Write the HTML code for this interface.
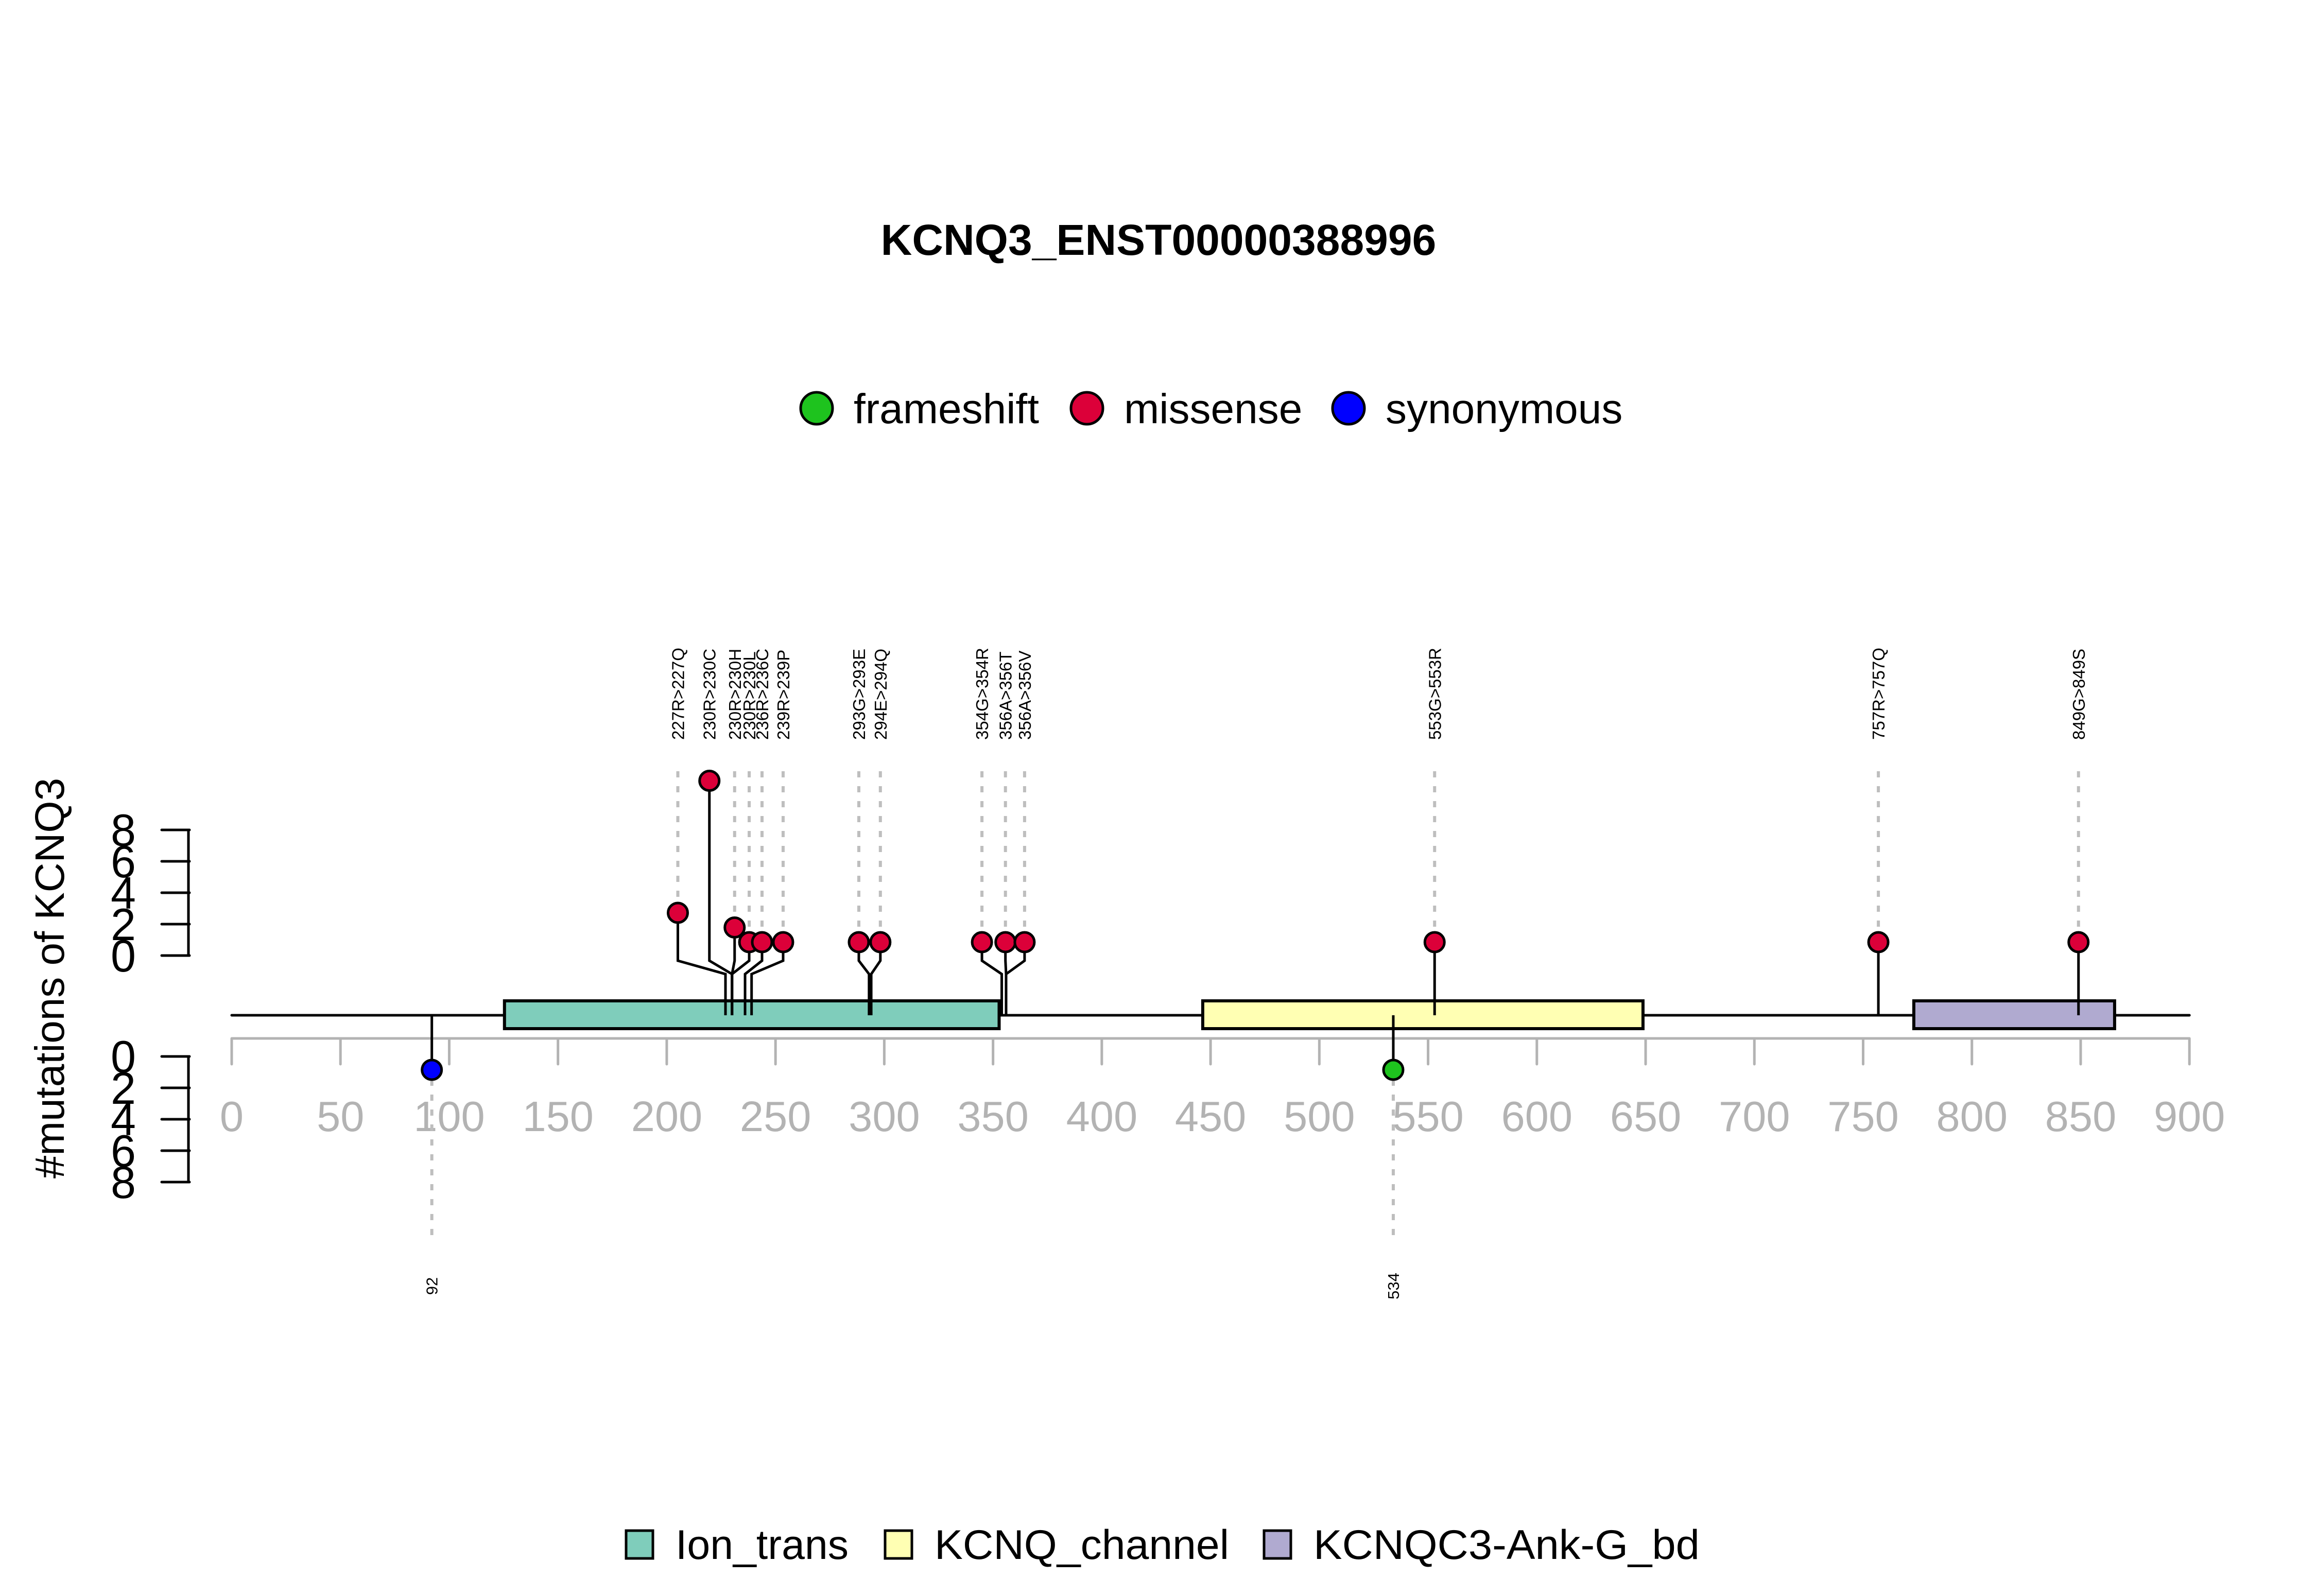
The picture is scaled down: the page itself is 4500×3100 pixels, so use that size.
<!DOCTYPE html>
<html><head><meta charset="utf-8"><title>KCNQ3 lolliplot</title>
<style>html,body{margin:0;padding:0;background:#fff}svg{display:block}</style></head>
<body>
<svg id="chart" xmlns="http://www.w3.org/2000/svg" width="4500" height="3100" viewBox="0 0 4500 3100" font-family="Liberation Sans, Arial, sans-serif">
<rect width="4500" height="3100" fill="#fff"/>
<text x="2250" y="495" text-anchor="middle" font-size="84" font-weight="bold">KCNQ3_ENST00000388996</text>
<text transform="translate(124,1900) rotate(-90)" text-anchor="middle" font-size="80">#mutations of KCNQ3</text>
<g id="g"></g>
</svg>
<script>
// ---- data ----
const axisTicks = [0,50,100,150,200,250,300,350,400,450,500,550,600,650,700,750,800,850,900];
const yTicks = [0,2,4,6,8];
const domainNames = ["Ion_trans","KCNQ_channel","KCNQC3-Ank-G_bd"];
const domainStarts = [125.4, 446.4, 773.3];
const domainEnds = [352.8, 648.8, 865.6];
const domainColors = ["#7fcdbb","#ffffb3","#b0aad0"];
const upLabels = ["227R>227Q","230R>230C","230R>230H","230R>230L","236R>236C","239R>239P","293G>293E","294E>294Q","354G>354R","356A>356T","356A>356V","553G>553R","757R>757Q","849G>849S"];
const upPos = [227,230,230,230,236,239,293,294,354,356,356,553,757,849];
const upShown = [205.1,219.6,231.2,237.9,243.8,253.5,288.3,298.2,344.9,355.7,364.5,553,757,849];
const upCounts = [3,12,2,1,1,1,1,1,1,1,1,1,1,1];
const downLabels = ["92","534"];
const downPos = [92,534];
const downCounts = [1,1];
const downTypes = ["synonymous","frameshift"];
const legendTypes = ["frameshift","missense","synonymous"];
const typeColors = {frameshift:"#1ec31e", missense:"#dc0039", synonymous:"#0000ff"};

// ---- scales ----
const X0=450, PX=4.2247;
const xs = v => X0 + v*PX;
const BACK=1972, TOP0=1856, BOT0=2052, TSTEP=30.5, CSTEP=28.5;
const yUp = c => TOP0 - 26 - CSTEP*(c-1);
const yDown = c => BOT0 + 26 + CSTEP*(c-1);

const NS="http://www.w3.org/2000/svg";
const g=document.getElementById('g');
function mk(tag, attrs, parent){const e=document.createElementNS(NS,tag);for(const k in attrs)e.setAttribute(k,attrs[k]);(parent||g).appendChild(e);return e;}

// y axes
const ya=mk('g',{});


mk('line',{x1:366,y1:TOP0,x2:366,y2:TOP0-8*TSTEP,stroke:'#000','stroke-width':5},ya);
const yb=mk('g',{});


mk('line',{x1:366,y1:BOT0,x2:366,y2:BOT0+8*TSTEP,stroke:'#000','stroke-width':5},yb);
yTicks.forEach(t=>{
  const y1=TOP0-t*TSTEP, y2=BOT0+t*TSTEP;
  mk('line',{x1:314,y1:y1,x2:368,y2:y1,stroke:'#000','stroke-width':5,'stroke-linecap':'round'},ya);
  const a=mk('text',{x:264,y:y1+31,'text-anchor':'end','font-size':88},ya);a.textContent=t;
  
  
  mk('line',{x1:314,y1:y2,x2:368,y2:y2,stroke:'#000','stroke-width':5,'stroke-linecap':'round'},yb);
  const b=mk('text',{x:264,y:y2+31,'text-anchor':'end','font-size':88},yb);b.textContent=t;
  
  
});

// x axis
const xa=mk('g',{});


mk('line',{x1:xs(0),y1:2017,x2:xs(900),y2:2017,stroke:'#b3b3b3','stroke-width':5},xa);
axisTicks.forEach(t=>{
  mk('line',{x1:xs(t),y1:2017,x2:xs(t),y2:2067,stroke:'#b3b3b3','stroke-width':5,'stroke-linecap':'round'},xa);
  const tx=mk('text',{x:xs(t),y:2197,'text-anchor':'middle','font-size':83,fill:'#b3b3b3'},xa);tx.textContent=t;
  
  
});

// backbone
const bb=mk('line',{x1:xs(0),y1:BACK,x2:xs(900),y2:BACK,stroke:'#000','stroke-width':5,'stroke-linecap':'round'});



// domains
domainNames.forEach((n,i)=>{
  const r=mk('rect',{x:xs(domainStarts[i]),y:1944,width:xs(domainEnds[i])-xs(domainStarts[i]),height:54,fill:domainColors[i],stroke:'#000','stroke-width':6});
  
  
});

// up lollipops
upLabels.forEach((lab,i)=>{
  const cx=xs(upShown[i]), px=xs(upPos[i]), cy=yUp(upCounts[i]);
  const gg=mk('g',{});
  
  
  mk('line',{x1:cx,y1:1498,x2:cx,y2:cy-19,stroke:'#bebebe','stroke-width':6,'stroke-dasharray':'12 17'},gg);
  let pts;
  if(Math.abs(cx-px)>0.5) pts=`${cx},${cy} ${cx},1866 ${px},1892 ${px},${BACK}`;
  else pts=`${cx},${cy} ${px},${BACK}`;
  mk('polyline',{points:pts,fill:'none',stroke:'#000','stroke-width':5},gg);
  mk('circle',{cx:cx,cy:cy,r:19,fill:typeColors.missense,stroke:'#000','stroke-width':5},gg);
  const t=mk('text',{transform:`translate(${cx+12},1437) rotate(-90)`,'font-size':33},gg);t.textContent=lab;
  
  
});

// down lollipops
downLabels.forEach((lab,i)=>{
  const cx=xs(downPos[i]), cy=yDown(downCounts[i]);
  const gg=mk('g',{});
  
  
  mk('line',{x1:cx,y1:cy+19,x2:cx,y2:2409,stroke:'#bebebe','stroke-width':6,'stroke-dasharray':'12 17'},gg);
  mk('line',{x1:cx,y1:BACK,x2:cx,y2:cy,stroke:'#000','stroke-width':5},gg);
  mk('circle',{cx:cx,cy:cy,r:19,fill:typeColors[downTypes[i]],stroke:'#000','stroke-width':5},gg);
  const t=mk('text',{transform:`translate(${cx+11},2498) rotate(-90)`,'text-anchor':'middle','font-size':31},gg);t.textContent=lab;
  
  
});

// type legend
const lgX=[1586,2111,2619];
const lg=mk('g',{});


legendTypes.forEach((t,i)=>{
  const e=mk('g',{},lg);
  
  
  mk('circle',{cx:lgX[i],cy:793,r:31,fill:typeColors[t],stroke:'#000','stroke-width':5},e);
  const tx=mk('text',{x:lgX[i]+72,y:822,'font-size':82},e);tx.textContent=t;
});

// domain legend
const dlX=[1216,1719,2455];
const dlW=[336,572,750];
const dl=mk('g',{});


domainNames.forEach((n,i)=>{
  const e=mk('g',{},dl);
  
  
  mk('rect',{x:dlX[i],y:2973,width:52,height:54,fill:domainColors[i],stroke:'#000','stroke-width':5},e);
  const tx=mk('text',{x:dlX[i]+96,y:3028,'font-size':81,textLength:dlW[i],lengthAdjust:'spacingAndGlyphs'},e);tx.textContent=n;
});
</script>
</body></html>
